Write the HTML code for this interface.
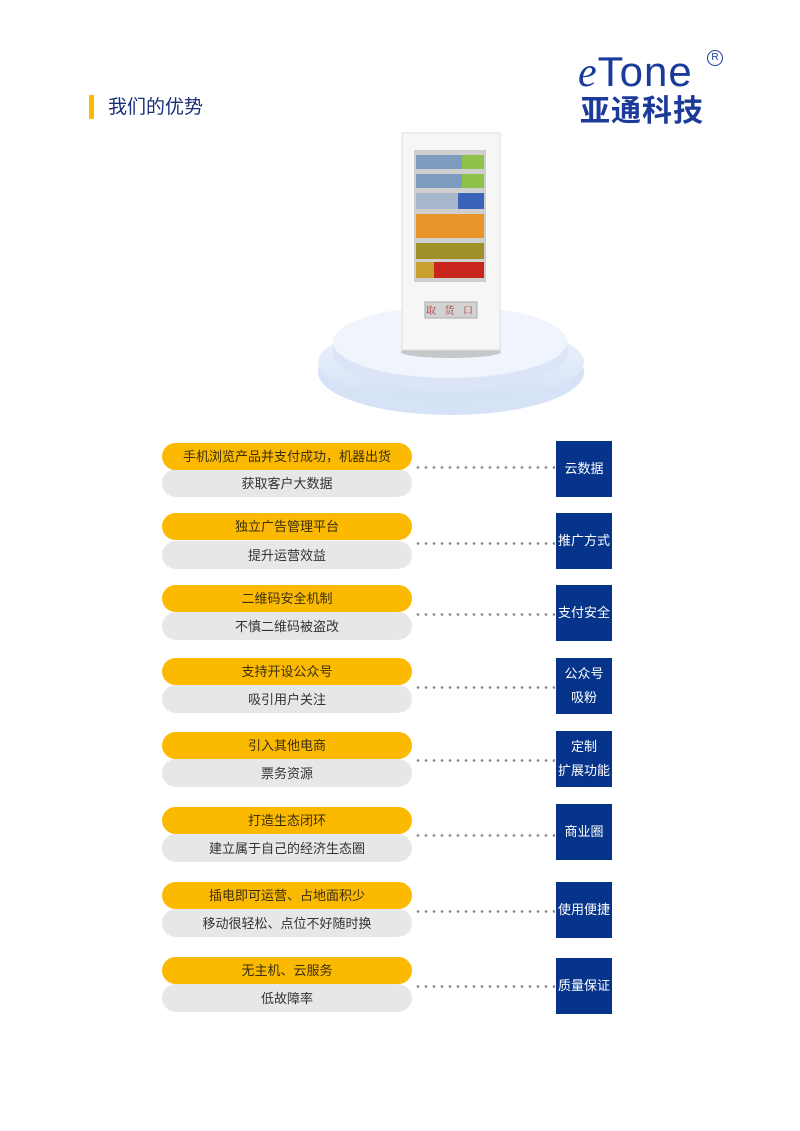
<!DOCTYPE html>
<html><head><meta charset="utf-8"><style>
html,body{margin:0;padding:0;background:#fff;}
body{width:800px;height:1131px;position:relative;overflow:hidden;font-family:"Liberation Sans","Noto Sans CJK SC",sans-serif;}
.a{position:absolute;}
.y{position:absolute;left:162px;width:250px;height:27px;background:#fbb900;border-radius:14px;text-align:center;font-size:13px;line-height:27px;color:#3a2f10;}
.g{position:absolute;left:162px;width:250px;height:28px;background:#e6e7e9;border-radius:14px;text-align:center;font-size:13px;line-height:30px;color:#333;}
.b{position:absolute;left:556px;width:56px;height:56px;background:#06348a;color:#fff;font-size:13px;display:flex;align-items:center;justify-content:center;text-align:center;line-height:24px;}
.d{position:absolute;left:414px;width:141px;height:3px;background-image:radial-gradient(circle,#8a8a8a 1.2px,transparent 1.5px);background-size:8px 3px;background-repeat:repeat-x;}
</style></head><body>
<div class="a" style="left:89px;top:95px;width:5px;height:24px;background:#fbb900"></div>
<div class="a" style="left:108px;top:95px;font-size:19px;color:#1a2f7a;line-height:26px">我们的优势</div>
<div class="a" style="left:578px;top:50px;font-family:'Liberation Serif',serif;font-style:italic;font-size:42px;color:#1b3a9a;line-height:44px;letter-spacing:1px">e<span style="font-style:normal;font-family:'Liberation Sans',sans-serif">Tone</span></div>
<div class="a" style="left:707px;top:50px;width:14px;height:14px;border:1.5px solid #1b3a9a;border-radius:50%;font-size:10px;color:#1b3a9a;text-align:center;line-height:14px">R</div>
<div class="a" style="left:580px;top:94px;font-size:30px;font-weight:bold;color:#1b3a9a;line-height:36px;letter-spacing:1px">亚通科技</div>

<svg class="a" style="left:0;top:0" width="800" height="430">
<defs><linearGradient id="p" x1="0" y1="0" x2="0" y2="1"><stop offset="0" stop-color="#f2f6fd"/><stop offset="1" stop-color="#d3e0f5"/></linearGradient></defs>
<ellipse cx="451" cy="372" rx="133" ry="43" fill="#d6e2f6"/>
<ellipse cx="451" cy="362" rx="133" ry="40" fill="url(#p)"/>
<ellipse cx="450" cy="352" rx="118" ry="38" fill="#dbe5f7"/>
<ellipse cx="450" cy="342" rx="117" ry="36" fill="#f0f4fc"/>
<ellipse cx="451" cy="352" rx="50" ry="6" fill="#999" opacity="0.5"/>
<rect x="402" y="133" width="98" height="217" fill="#f6f6f6" stroke="#ddd"/>
<rect x="414" y="150" width="72" height="132" fill="#cfcfcf"/>
<g>
<rect x="416" y="155" width="68" height="14" fill="#7c9cc0"/><rect x="462" y="155" width="22" height="14" fill="#8fc24a"/>
<rect x="416" y="174" width="68" height="14" fill="#7c9cc0"/><rect x="462" y="174" width="22" height="14" fill="#8fc24a"/>
<rect x="416" y="193" width="68" height="16" fill="#a8b8cc"/><rect x="458" y="193" width="26" height="16" fill="#3b64b8"/>
<rect x="416" y="214" width="68" height="24" fill="#e8962a"/>
<rect x="416" y="243" width="68" height="16" fill="#a0902a"/>
<rect x="416" y="262" width="68" height="16" fill="#c8261c"/><rect x="416" y="262" width="18" height="16" fill="#c8a030"/>
</g>
<rect x="425" y="302" width="52" height="16" fill="#d2d2d2" stroke="#aaa"/>
<text x="451" y="314" font-size="10" fill="#b03a3a" text-anchor="middle" font-family="Noto Serif CJK SC,serif" letter-spacing="3">取 货 口</text>
</svg>

<div class="g" style="top:469px">获取客户大数据</div><div class="y" style="top:443px">手机浏览产品并支付成功，机器出货</div><div class="d" style="top:466px"></div><div class="b" style="top:441px">云数据</div>
<div class="g" style="top:541px">提升运营效益</div><div class="y" style="top:513px">独立广告管理平台</div><div class="d" style="top:542px"></div><div class="b" style="top:513px">推广方式</div>
<div class="g" style="top:612px">不慎二维码被盗改</div><div class="y" style="top:585px">二维码安全机制</div><div class="d" style="top:613px"></div><div class="b" style="top:585px">支付安全</div>
<div class="g" style="top:685px">吸引用户关注</div><div class="y" style="top:658px">支持开设公众号</div><div class="d" style="top:686px"></div><div class="b" style="top:658px">公众号<br>吸粉</div>
<div class="g" style="top:759px">票务资源</div><div class="y" style="top:732px">引入其他电商</div><div class="d" style="top:759px"></div><div class="b" style="top:731px">定制<br>扩展功能</div>
<div class="g" style="top:834px">建立属于自己的经济生态圈</div><div class="y" style="top:807px">打造生态闭环</div><div class="d" style="top:834px"></div><div class="b" style="top:804px">商业圈</div>
<div class="g" style="top:909px">移动很轻松、点位不好随时换</div><div class="y" style="top:882px">插电即可运营、占地面积少</div><div class="d" style="top:910px"></div><div class="b" style="top:882px">使用便捷</div>
<div class="g" style="top:984px">低故障率</div><div class="y" style="top:957px">无主机、云服务</div><div class="d" style="top:985px"></div><div class="b" style="top:958px">质量保证</div>
</body></html>
